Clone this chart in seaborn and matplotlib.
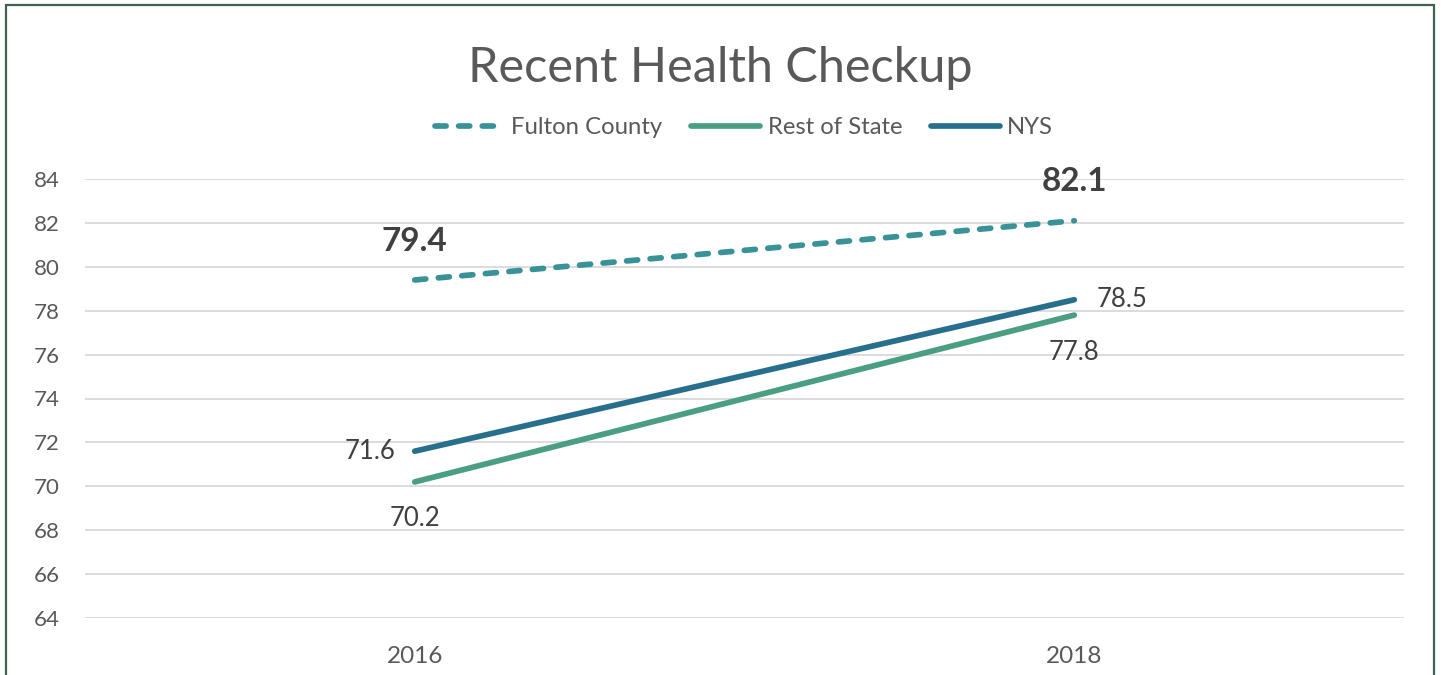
import matplotlib
matplotlib.use("Agg")
import matplotlib.pyplot as plt
import seaborn as sns
import pandas as pd
from matplotlib.lines import Line2D
from matplotlib.patches import Rectangle

years = ["2016", "2018"]
series_names = ["Fulton County", "Rest of State", "NYS"]
fulton = [79.4, 82.1]
rest_of_state = [70.2, 77.8]
nys = [71.6, 78.5]
yticks = [64, 66, 68, 70, 72, 74, 76, 78, 80, 82, 84]

colors = {"Fulton County": "#3A9299", "Rest of State": "#4A9E82", "NYS": "#266F8D"}

rows = []
for name, vals in zip(series_names, [fulton, rest_of_state, nys]):
    for y, v in zip(years, vals):
        rows.append({"Year": y, "Value": v, "Series": name})
df = pd.DataFrame(rows)

sns.set_theme(style="white")
plt.rcParams['font.family'] = ['Lato', 'DejaVu Sans']

fig = plt.figure(figsize=(14.41, 6.75), dpi=100)
ax = fig.add_axes([85/1441, 57/675, (1404-85)/1441, (618-179)/675])

lw = 4.1
dash = (0, (1.95, 2.2))
for name in series_names:
    sub = df[df["Series"] == name]
    sns.lineplot(data=sub, x="Year", y="Value", ax=ax, color=colors[name],
                 linewidth=lw, legend=False, sort=False,
                 linestyle=dash if name == "Fulton County" else "-",
                 solid_capstyle="round", dash_capstyle="round")

ax.set_xlim(-0.5, 1.5)
ax.set_ylim(64, 84)
ax.set_yticks(yticks)
ax.set_yticklabels([str(t) for t in yticks])
ax.yaxis.grid(True, color="#D9D9D9", linewidth=1.3)
ax.xaxis.grid(False)
for s in ax.spines.values():
    s.set_visible(False)
ax.tick_params(axis="y", length=0, pad=18, labelsize=16, labelcolor="#595959")
ax.tick_params(axis="x", length=0, pad=20, labelsize=17.5, labelcolor="#595959")
ax.set_xlabel("")
ax.set_ylabel("")
ax.set_axisbelow(True)

lc = "#404040"
# data labels
ax.annotate(f"{fulton[0]}", (0, fulton[0]), xytext=(0, 28), textcoords="offset points",
            ha="center", va="center", fontsize=24, fontweight="bold", color=lc)
ax.annotate(f"{fulton[1]}", (1, fulton[1]), xytext=(0, 28), textcoords="offset points",
            ha="center", va="center", fontsize=24, fontweight="bold", color=lc)
ax.annotate(f"{nys[0]}", (0, nys[0]), xytext=(-14, 0), textcoords="offset points",
            ha="right", va="center", fontsize=18.5, color=lc)
ax.annotate(f"{nys[1]}", (1, nys[1]), xytext=(16, 0), textcoords="offset points",
            ha="left", va="center", fontsize=18.5, color=lc)
ax.annotate(f"{rest_of_state[0]}", (0, rest_of_state[0]), xytext=(0, -26), textcoords="offset points",
            ha="center", va="center", fontsize=18.5, color=lc)
ax.annotate(f"{rest_of_state[1]}", (1, rest_of_state[1]), xytext=(0, -27), textcoords="offset points",
            ha="center", va="center", fontsize=18.5, color=lc)

fig.text(0.5, 1 - 68/675, "Recent Health Checkup", ha="center", va="center",
         fontsize=35, color="#595959")

handles = [
    Line2D([], [], color=colors["Fulton County"], linewidth=lw, linestyle=dash,
           dash_capstyle="round"),
    Line2D([], [], color=colors["Rest of State"], linewidth=lw, solid_capstyle="round"),
    Line2D([], [], color=colors["NYS"], linewidth=lw, solid_capstyle="round"),
]
leg = fig.legend(handles, series_names, loc="center", bbox_to_anchor=(744/1441, 1 - 128/675),
                 ncol=3, frameon=False, fontsize=17.2, handlelength=2.9, handletextpad=0.3,
                 columnspacing=1.2, borderpad=0)
for t in leg.get_texts():
    t.set_color("#595959")

fig.patches.append(Rectangle((6/1441, -0.05), (1434-6)/1441, 1.05 - 5/675,
                             transform=fig.transFigure, fill=False,
                             edgecolor="#41624F", linewidth=1.6))

fig.savefig("out.png", dpi=100)
